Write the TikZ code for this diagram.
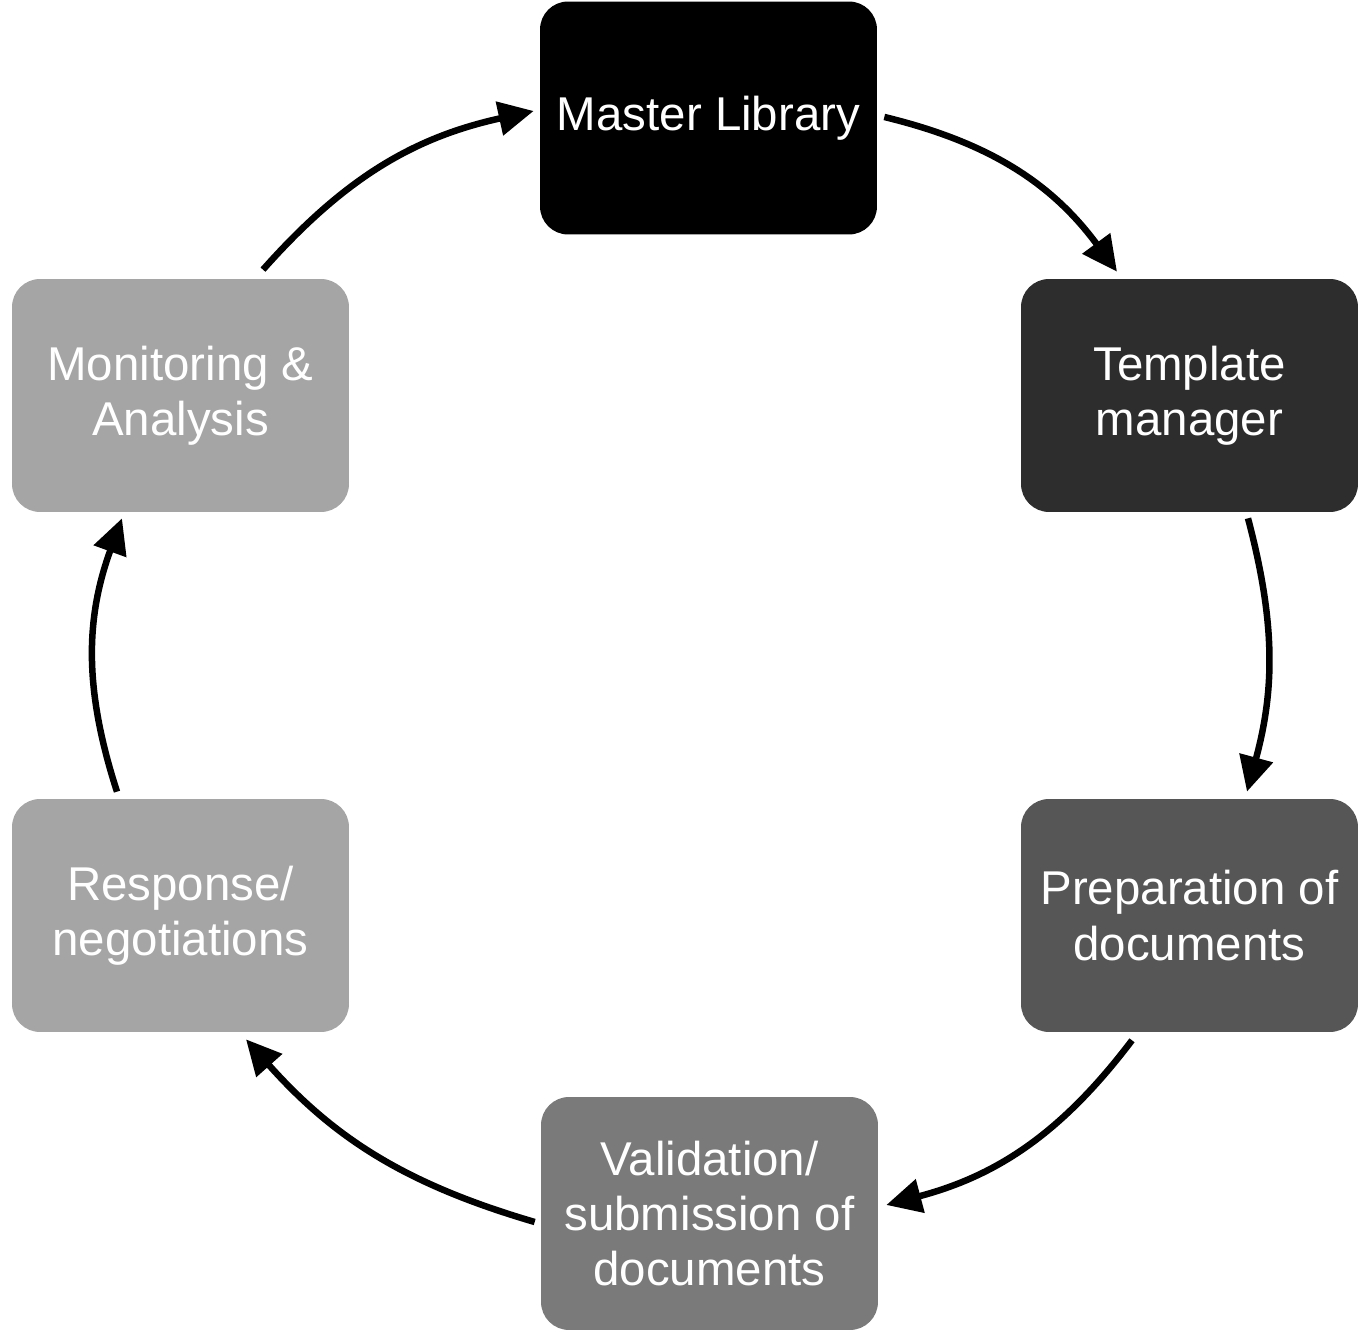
\documentclass[tikz,border=0pt]{standalone}
\usepackage{fontspec}
\setmainfont{Liberation Sans}
\usetikzlibrary{arrows.meta,calc}
\definecolor{cTemplate}{HTML}{2D2D2D}
\definecolor{cPrep}{HTML}{565656}
\definecolor{cValid}{HTML}{7A7A7A}
\definecolor{cLight}{HTML}{A5A5A5}
\tikzset{
  stagebox/.style={rectangle, rounded corners=0.56cm, minimum width=6.74cm, minimum height=4.66cm,
    inner sep=0pt, text=white, align=center, font=\fontsize{27}{31.5}\selectfont},
  flow/.style={line width=3.7pt, -{Triangle[length=20pt,width=19pt]}}
}
\begin{document}
\begin{tikzpicture}[x=0.02cm,y=0.02cm]
\useasboundingbox (0,0) rectangle (1367,1332);
\node[stagebox, fill=black] (ml) at (708.5,1214) {Master Library};
\node[stagebox, fill=cTemplate] (tm) at (1189.5,936.5) {Template\\manager};
\node[stagebox, fill=cPrep] (pd) at (1189.5,416.5) {Preparation of\\documents};
\node[stagebox, fill=cValid] (vd) at (709.5,118.5) {Validation/\\submission of\\documents};
\node[stagebox, fill=cLight] (rn) at (180.5,416.5) {Response/\\negotiations};
\node[stagebox, fill=cLight] (ma) at (180.5,936.5) {Monitoring \&\\Analysis};
\draw[flow] ($(ml.east)+(7,1)$) to[bend left=20] ($(tm.north)+(-72.5,7)$);
\draw[flow] ($(tm.south)+(58.5,-6)$) to[bend left=15] ($(pd.north)+(57.5,7)$);
\draw[flow] ($(pd.south)+(-57.5,-8)$) to[bend left=19] ($(vd.east)+(8,8.5)$);
\draw[flow] ($(vd.west)+(-6,-8.5)$) to[bend left=16] ($(rn.south)+(65.5,-7)$);
\draw[flow] ($(rn.north)+(-63.5,7)$) to[bend left=19] ($(ma.south)+(-58.5,-6)$);
\draw[flow] ($(ma.north)+(82.5,9)$) to[bend left=18] ($(ml.west)+(-6,7)$);
\end{tikzpicture}
\end{document}
